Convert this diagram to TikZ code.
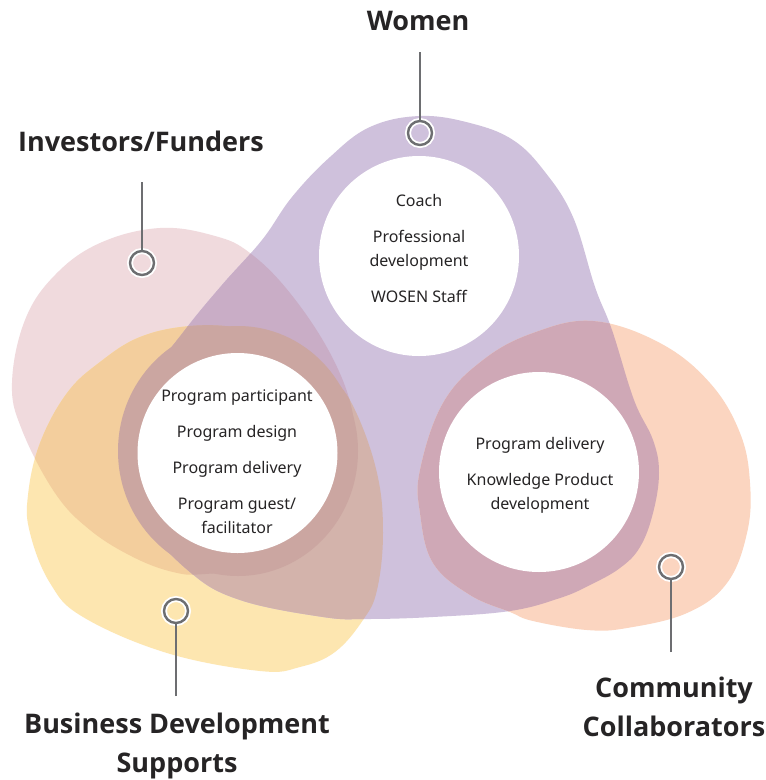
\documentclass[tikz,border=0pt]{standalone}
\usepackage{fontspec}
\setmainfont{Noto Sans}
\newfontfamily\groupfont{Open Sans}

\definecolor{pinkC}{HTML}{F0DADD}
\definecolor{purpleC}{HTML}{CFC1DC}
\definecolor{yellowC}{HTML}{FDE6B0}
\definecolor{peachC}{HTML}{FBD5C0}
\definecolor{pinkPurpleC}{HTML}{C9ADC6}
\definecolor{pinkYellowC}{HTML}{F3CE9D}
\definecolor{yellowPurpleC}{HTML}{D3B3AB}
\definecolor{purplePeachC}{HTML}{CFA8B6}
\definecolor{ringC}{HTML}{CBA6A1}
\definecolor{inkC}{HTML}{262425}
\definecolor{pinGrayC}{HTML}{6D6E71}

% outlines of the four stakeholder areas
\newcommand{\areaWomen}{plot[smooth cycle, tension=0.65] coordinates {
  (420,116) (470,123) (513,140) (545,172) (573,217) (595,287) (612,330)
  (634,400) (653,440) (659,473) (653,513) (640,547) (620,568) (590,585)
  (560,598) (510,611) (433,617) (367,619) (323,617) (240,600) (190,572)
  (145,520) (124,450) (150,380) (185,330) (222,285) (262,240) (292,197)
  (330,157) (370,127)}}
\newcommand{\areaFunders}{plot[smooth cycle, tension=0.65] coordinates {
  (160,228) (215,236) (250,253) (290,293) (330,353) (352,410) (350,450)
  (340,490) (315,535) (270,565) (205,574) (173,572) (133,557) (90,530)
  (55,493) (22,430) (12,383) (25,320) (55,275) (100,243)}}
\newcommand{\areaSupports}{plot[smooth cycle, tension=0.65] coordinates {
  (190,326) (240,328) (290,342) (330,375) (355,410) (377,473) (383,533)
  (377,590) (363,620) (335,652) (300,667) (260,671) (167,653) (83,617)
  (50,583) (30,533) (28,495) (40,443) (67,393) (100,362) (140,337)}}
\newcommand{\areaCommunity}{plot[smooth cycle, tension=0.65] coordinates {
  (593,321) (660,343) (710,383) (740,433) (750,483) (747,533) (727,583)
  (687,613) (627,628) (587,630) (533,621) (510,612) (470,595) (433,563)
  (420,513) (420,470) (443,403) (483,360) (533,333)}}

\tikzset{
  hole/.style={circle, fill=white, minimum size=200pt, inner sep=0pt},
  bodytext/.style={text=inkC, font=\fontsize{16}{24}\selectfont, align=center, anchor=base, inner sep=0pt},
  grouplabel/.style={text=inkC, font=\groupfont\bfseries\fontsize{27}{39}\selectfont, align=center, anchor=base, inner sep=0pt},
  pinring/.style={circle, draw=pinGrayC, line width=2.4pt, minimum size=24pt, inner sep=0pt,
    preaction={draw=white, line width=6pt}},
  pinline/.style={draw=pinGrayC, line width=2.4pt}
}

\begin{document}
\begin{tikzpicture}[x=1pt, y=-1pt]
\useasboundingbox (0,0) rectangle (766,780);
\fill[white] (0,0) rectangle (766,780);

% base areas
\fill[pinkC] \areaFunders;
\fill[yellowC] \areaSupports;
\fill[purpleC] \areaWomen;
\fill[peachC] \areaCommunity;

% overlaps
\begin{scope}\clip \areaFunders; \fill[pinkYellowC] \areaSupports;\end{scope}
\begin{scope}\clip \areaFunders; \fill[pinkPurpleC] \areaWomen;\end{scope}
\begin{scope}\clip \areaSupports; \fill[yellowPurpleC] \areaWomen;\end{scope}
\begin{scope}\clip \areaFunders; \clip \areaSupports; \fill[ringC] \areaWomen;\end{scope}
\begin{scope}\clip \areaWomen; \fill[purplePeachC] \areaCommunity;\end{scope}

% shared ring round the programme circle
\fill[ringC] (238,451) ellipse [x radius=120, y radius=125];

% white centres
\node[hole] (holeTop) at (419,256) {};
\node[hole] (holeLeft) at (237.5,453) {};
\node[hole] (holeRight) at (539,472) {};

% roles in each centre (multi-line nodes sit on their last baseline)
\node[bodytext] (rCoach) at (419,206) {Coach};
\node[bodytext] (rProf) at (419,266) {Professional\\development};
\node[bodytext] (rStaff) at (419,302) {WOSEN Staff};

\node[bodytext] (rPart) at (237,401) {Program participant};
\node[bodytext] (rDesign) at (237,437) {Program design};
\node[bodytext] (rDeliv) at (237,473) {Program delivery};
\node[bodytext] (rGuest) at (237,533) {Program guest/\\facilitator};

\node[bodytext] (rDelivR) at (540,449) {Program delivery};
\node[bodytext] (rKnow) at (540,509) {Knowledge Product\\development};

% group labels with their pins
\node[grouplabel] (gWomen) at (418,30) {Women};
\node[grouplabel] (gFunders) at (141,151) {Investors/Funders};
\node[grouplabel] (gSupports) at (177,772) {Business Development\\Supports};
\node[grouplabel] (gCommunity) at (674,736) {Community\\Collaborators};

\node[pinring] (pWomen) at (420,133) {};
\node[pinring] (pFunders) at (142,263) {};
\node[pinring] (pSupports) at (176,611) {};
\node[pinring] (pCommunity) at (671,567) {};

\coordinate (eWomen) at (420,52);
\coordinate (eFunders) at (142,182);
\coordinate (eSupports) at (176,696);
\coordinate (eCommunity) at (671,652);

\draw[pinline] (eWomen) -- (pWomen);
\draw[pinline] (eFunders) -- (pFunders);
\draw[pinline] (eSupports) -- (pSupports);
\draw[pinline] (eCommunity) -- (pCommunity);
\end{tikzpicture}
\end{document}
